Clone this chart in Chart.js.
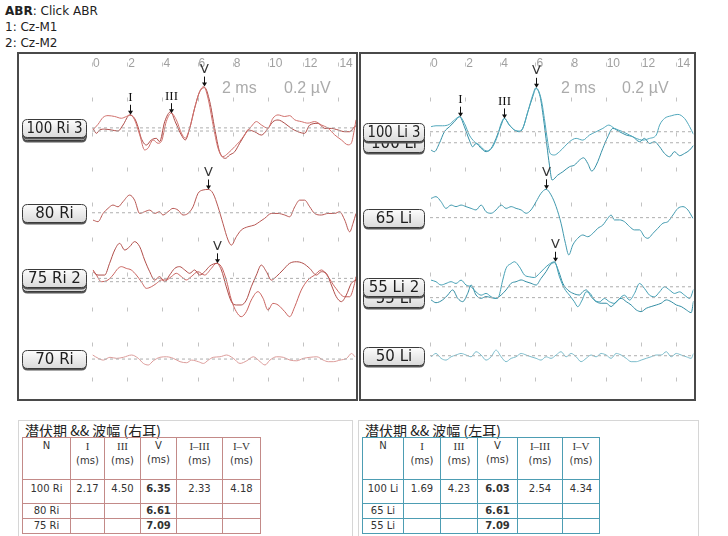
<!DOCTYPE html>
<html><head><meta charset="utf-8">
<script src="https://cdn.jsdelivr.net/npm/chart.js@4/dist/chart.umd.min.js"></script>
<style>
body{margin:0;width:728px;height:536px;background:#fff;position:relative;overflow:hidden;font-family:"DejaVu Sans",Verdana,sans-serif;}
.hdr{position:absolute;left:5px;font-size:12px;line-height:15px;color:#222;white-space:nowrap;}
.panel{position:absolute;top:52px;height:345px;border:2px solid #4a4a4a;}
canvas{position:absolute;top:52px;}
.sc{position:absolute;top:79px;font-family:"Liberation Sans",Arial,sans-serif;font-size:16px;line-height:18px;color:#ababab;white-space:nowrap;}
.tblbox{position:absolute;top:420px;height:115px;border:1px solid #d6d6d6;}
.ttl{position:absolute;left:6px;top:1px;font-family:"Noto Sans CJK SC","DejaVu Sans",sans-serif;font-size:14px;line-height:17px;color:#222;white-space:nowrap;}
table{position:absolute;left:3px;top:16px;border-collapse:collapse;table-layout:fixed;font-family:"DejaVu Sans",sans-serif;font-size:10px;color:#333;}
td{padding:0;text-align:center;line-height:14px;overflow:hidden;white-space:nowrap;}
tr.h td{height:40px;vertical-align:top;padding-top:1px;}
tr.r1 td{height:21px;vertical-align:top;padding-top:2px;}
tr.r td{height:14px;vertical-align:middle;}
.sr{font-family:"Liberation Serif","DejaVu Serif",serif;font-size:11px;}
</style></head>
<body>
<div class="hdr" style="top:4px"><b>ABR</b>: Click ABR</div>
<div class="hdr" style="top:20px">1: Cz-M1</div>
<div class="hdr" style="top:36px">2: Cz-M2</div>

<div class="panel" style="left:17px;width:337px"></div>
<div class="panel" style="left:359px;width:333px"></div>
<canvas id="cR" width="338" height="348" style="left:18px;width:338px;height:348px"></canvas>
<canvas id="cL" width="336" height="348" style="left:359px;width:336px;height:348px"></canvas>
<div class="sc" style="left:222px">2 ms</div>
<div class="sc" style="left:284px">0.2 µV</div>
<div class="sc" style="left:561px">2 ms</div>
<div class="sc" style="left:622px">0.2 µV</div>

<div class="tblbox" style="left:18px;width:333px"><div class="ttl">潜伏期 &amp;&amp; 波幅 (右耳)</div><table id="tR"></table></div>
<div class="tblbox" style="left:358px;width:339px"><div class="ttl">潜伏期 &amp;&amp; 波幅 (左耳)</div><table id="tL"></table></div>

<script>
// ---------- axis / grid values ----------
const X_MIN = 0, X_MAX = 15, X_STEP = 2;          // ms
const Y_MIN = -1.7, Y_MAX = 0.16;                 // µV
const gridAmps = [0.2, 0, -0.2, -0.4, -0.6, -0.8, -1.0, -1.2, -1.4, -1.6];

// ---------- table values ----------
const tblHead = ['N', 'I', 'III', 'V', 'I–III', 'I–V'];
const rightN   = ['100 Ri', '80 Ri', '75 Ri'];
const rightI   = ['2.17', '', ''];
const rightIII = ['4.50', '', ''];
const rightV   = ['6.35', '6.61', '7.09'];
const rightI_III = ['2.33', '', ''];
const rightI_V   = ['4.18', '', ''];
const leftN   = ['100 Li', '65 Li', '55 Li'];
const leftI   = ['1.69', '', ''];
const leftIII = ['4.23', '', ''];
const leftV   = ['6.03', '6.61', '7.09'];
const leftI_III = ['2.54', '', ''];
const leftI_V   = ['4.34', '', ''];

// ---------- trace labels and baselines (µV) ----------
const rightLabels  = ['100 Ri 3', '100 Ri', '80 Ri', '75 Ri 2', '75 Ri', '70 Ri'];
const rightOffsets = [-0.165, -0.183, -0.65, -1.025, -1.044, -1.486];
const leftLabels   = ['100 Li 3', '100 Li', '65 Li', '55 Li 2', '55 Li', '50 Li'];
const leftOffsets  = [-0.187, -0.25, -0.678, -1.073, -1.135, -1.467];

// ---------- right ear traces [ms, µV] ----------
const R100_3 = [[0.06,-0.01],[0.34,0.02],[0.63,0.06],[0.91,0.07],[1.29,0.065],[1.67,0.055],[1.95,0.065],[2.17,0.075],[2.42,0.046],[2.71,-0.04],[2.99,-0.126],[3.18,-0.116],[3.47,-0.069],[3.75,-0.088],[3.94,-0.078],[4.22,0.036],[4.50,0.084],[4.79,0.046],[5.08,-0.03],[5.30,-0.059],[5.55,-0.002],[5.83,0.112],[6.12,0.208],[6.35,0.236],[6.59,0.17],[6.88,0.017],[7.16,-0.116],[7.44,-0.164],[7.73,-0.145],[8.11,-0.107],[8.39,-0.078],[8.67,-0.04],[9.05,0.008],[9.34,0.036],[9.62,0.017],[10.0,-0.002],[10.28,0.055],[10.57,0.074],[10.95,0.065],[11.23,0.07],[11.52,0.046],[11.89,0.036],[12.27,0.027],[12.65,0.036],[13.03,0.017],[13.41,-0.002],[13.79,-0.04],[14.17,-0.069],[14.55,-0.097],[14.73,-0.088],[14.92,-0.002],[15.0,0.046]];
const R100 = [[0.06,0.015],[0.25,-0.013],[0.44,0.006],[0.72,0.011],[1.10,0.006],[1.48,0],[1.76,0.034],[2.14,0.091],[2.42,0.072],[2.61,0.025],[2.80,-0.042],[3.09,-0.08],[3.37,-0.051],[3.66,-0.042],[3.84,-0.061],[4.13,0.053],[4.47,0.11],[4.73,0.053],[5.08,-0.023],[5.30,-0.051],[5.55,0.015],[5.83,0.13],[6.12,0.225],[6.40,0.248],[6.69,0.168],[6.97,0.015],[7.25,-0.118],[7.58,-0.156],[7.82,-0.137],[8.11,-0.118],[8.39,-0.07],[8.67,-0.023],[8.86,0.006],[9.24,-0.004],[9.62,-0.023],[10.0,0.015],[10.28,0.053],[10.57,0.063],[10.95,0.044],[11.33,0.015],[11.70,-0.004],[12.08,-0.013],[12.37,0.034],[12.84,0.044],[13.22,0.015],[13.60,0.015],[13.98,0.006],[14.36,-0.004],[14.64,-0.004],[14.92,0.025],[15.0,0.03]];
const R80 = [[0.06,-0.042],[0.34,-0.051],[0.63,-0.004],[0.91,0.025],[1.19,0.044],[1.48,0.034],[1.76,0.063],[2.14,0.101],[2.42,0.072],[2.71,-0.004],[2.99,0.006],[3.28,0.015],[3.56,-0.004],[3.84,0.006],[4.03,-0.013],[4.32,0.006],[4.60,0.025],[4.89,0.015],[5.17,-0.013],[5.45,-0.004],[5.74,0.034],[6.02,0.11],[6.31,0.13],[6.61,0.133],[6.88,0.11],[7.16,0.034],[7.44,-0.061],[7.73,-0.156],[7.92,-0.185],[8.20,-0.137],[8.48,-0.099],[8.86,-0.08],[9.24,-0.07],[9.53,-0.051],[9.81,-0.032],[10.19,-0.004],[10.57,-0.004],[10.95,-0.013],[11.23,-0.023],[11.52,0.034],[11.80,0.072],[12.08,0.072],[12.37,0.034],[12.65,-0.004],[13.03,-0.013],[13.41,-0.004],[13.79,-0.004],[14.07,0.006],[14.36,-0.042],[14.64,-0.109],[14.83,-0.061],[15.0,-0.004]];
const R75_2 = [[0.06,0.038],[0.34,0.019],[0.72,0.019],[1.00,0.086],[1.29,0.162],[1.57,0.2],[1.86,0.162],[2.14,0.181],[2.42,0.21],[2.71,0.181],[2.99,0.105],[3.28,0.038],[3.56,-0.01],[3.84,0.01],[4.13,-0.019],[4.41,0.019],[4.70,0.057],[4.98,0.067],[5.27,0.048],[5.55,0.029],[5.83,0.048],[6.12,0.019],[6.40,0.038],[6.69,0.07],[7.09,0.086],[7.35,0.048],[7.63,-0.048],[7.92,-0.133],[8.20,-0.152],[8.48,-0.152],[8.77,-0.124],[9.05,-0.048],[9.34,0.019],[9.62,0.076],[9.91,0.038],[10.19,-0.01],[10.47,0.01],[10.85,0.048],[11.23,0.086],[11.61,0.095],[11.99,0.086],[12.37,0.057],[12.75,0.019],[13.03,0.038],[13.31,0.029],[13.60,-0.038],[13.88,-0.105],[14.17,-0.133],[14.45,-0.095],[14.73,-0.029],[15.0,-0.01]];
const R75 = [[0.06,0.067],[0.25,0.038],[0.53,0],[0.91,0.01],[1.19,0.038],[1.48,0.076],[1.67,0.086],[1.95,0.076],[2.23,0.067],[2.52,0.038],[2.80,0],[3.09,-0.038],[3.37,-0.029],[3.66,-0.01],[3.94,0.01],[4.22,0.01],[4.51,0.029],[4.79,0.048],[5.08,0.029],[5.36,0.01],[5.64,0.029],[6.02,0.057],[6.40,0.038],[6.78,0.076],[7.06,0.105],[7.35,0.086],[7.63,0.01],[7.92,-0.105],[8.20,-0.171],[8.48,-0.2],[8.77,-0.171],[9.05,-0.105],[9.43,-0.057],[9.72,-0.095],[10.0,-0.162],[10.28,-0.124],[10.57,-0.133],[10.95,-0.171],[11.23,-0.2],[11.52,-0.143],[11.89,-0.048],[12.27,0.01],[12.65,0.038],[13.03,0.067],[13.41,0.029],[13.79,-0.029],[14.36,-0.086],[14.64,-0.086],[14.92,-0.01],[15.0,0.029]];
const R70 = [[0.04,0.023],[0.36,0.004],[0.64,-0.006],[1.02,0.01],[1.40,0.004],[1.78,0.01],[2.25,0.023],[2.63,0.004],[2.92,-0.025],[3.20,-0.034],[3.48,-0.01],[3.86,0.01],[4.24,0.013],[4.62,0.004],[5.0,-0.015],[5.38,-0.021],[5.66,-0.006],[6.04,-0.015],[6.33,-0.025],[6.61,-0.006],[6.89,0.01],[7.27,0.013],[7.65,0.023],[8.03,0.004],[8.41,-0.025],[8.79,-0.01],[9.17,0.013],[9.55,-0.015],[9.83,-0.034],[10.11,-0.006],[10.49,0.013],[10.87,0.01],[11.25,-0.006],[11.63,-0.01],[12.01,0.004],[12.39,0.01],[12.77,0.013],[13.14,-0.006],[13.43,-0.015],[13.71,-0.015],[14.09,-0.006],[14.47,0.004],[14.75,0.032],[14.94,0.013]];

// ---------- left ear traces [ms, µV] ----------
const L100_3 = [[0.06,0.029],[0.34,0.034],[0.72,0.034],[1.10,0.042],[1.39,0.067],[1.69,0.086],[1.96,0.048],[2.24,-0.019],[2.53,-0.057],[2.81,-0.076],[3.10,-0.105],[3.29,-0.11],[3.57,-0.086],[3.86,-0.019],[4.05,0.048],[4.23,0.076],[4.52,0.038],[4.81,0.01],[5.09,0.004],[5.28,0.019],[5.57,0.114],[5.85,0.21],[6.03,0.251],[6.32,0.19],[6.51,0.076],[6.70,-0.057],[6.84,-0.124],[7.08,-0.133],[7.37,-0.114],[7.65,-0.086],[7.94,-0.057],[8.32,-0.038],[8.70,-0.048],[9.08,-0.019],[9.46,0],[9.84,0.019],[10.18,0.038],[10.50,0.019],[10.98,0],[11.36,-0.019],[11.74,-0.038],[12.12,-0.048],[12.50,-0.038],[12.88,-0.019],[13.07,0.038],[13.35,0.076],[13.73,0.091],[14.11,0.099],[14.49,0.076],[14.78,0.029],[15.0,-0.015]];
const L100 = [[0.06,-0.042],[0.25,-0.051],[0.53,-0.004],[0.82,0.063],[1.10,0.091],[1.39,0.12],[1.69,0.149],[1.96,0.091],[2.24,0.015],[2.43,-0.023],[2.62,-0.004],[2.91,-0.032],[3.19,-0.051],[3.48,-0.032],[3.76,0.025],[4.05,0.101],[4.23,0.139],[4.52,0.101],[4.81,0.072],[5.09,0.063],[5.28,0.082],[5.57,0.177],[5.85,0.263],[6.03,0.31],[6.27,0.263],[6.46,0.139],[6.65,-0.013],[6.80,-0.128],[6.95,-0.213],[7.27,-0.185],[7.56,-0.166],[7.94,-0.137],[8.22,-0.128],[8.51,-0.099],[8.74,-0.086],[8.98,-0.118],[9.21,-0.162],[9.46,-0.128],[9.84,-0.032],[10.12,0.034],[10.41,0.082],[10.79,0.063],[11.17,0.044],[11.55,0.034],[11.93,0.006],[12.21,0.025],[12.50,-0.004],[12.78,0.006],[13.07,-0.023],[13.35,-0.061],[13.64,-0.08],[13.92,-0.051],[14.21,-0.074],[14.49,-0.061],[14.78,-0.042],[15.0,-0.015]];
const L65 = [[0.06,0.11],[0.34,0.12],[0.63,0.091],[0.91,0.053],[1.20,0.072],[1.48,0.063],[1.77,0.072],[2.05,0.063],[2.34,0.053],[2.62,0.044],[2.91,0.072],[3.19,0.034],[3.48,0.025],[3.76,0.044],[4.05,0.072],[4.33,0.053],[4.62,0.063],[4.90,0.053],[5.19,0.044],[5.47,0.025],[5.75,0.044],[6.04,0.091],[6.32,0.139],[6.61,0.162],[6.89,0.13],[7.18,0.063],[7.46,-0.032],[7.71,-0.147],[7.90,-0.213],[8.13,-0.156],[8.41,-0.118],[8.70,-0.099],[8.98,-0.109],[9.27,-0.09],[9.55,-0.061],[9.84,-0.042],[10.12,-0.004],[10.31,0.015],[10.50,-0.013],[10.79,-0.013],[11.07,-0.023],[11.36,-0.051],[11.64,-0.07],[11.93,-0.07],[12.21,-0.109],[12.40,-0.118],[12.69,-0.09],[12.97,-0.061],[13.26,-0.032],[13.54,-0.023],[13.83,0.015],[14.11,0.053],[14.40,0.063],[14.68,0.044],[14.97,-0.004]];
const L55_2 = [[0.06,0.038],[0.34,0.029],[0.63,0.01],[0.91,0.019],[1.20,0.029],[1.48,0.019],[1.77,0.038],[2.05,0.01],[2.34,0],[2.62,-0.029],[2.91,-0.048],[3.19,-0.038],[3.48,-0.057],[3.76,-0.067],[3.91,-0.057],[4.14,0.038],[4.33,0.105],[4.62,0.133],[4.81,0.143],[5.09,0.114],[5.38,0.067],[5.66,0.057],[5.94,0.053],[6.23,0.076],[6.51,0.105],[6.80,0.13],[7.09,0.143],[7.37,0.057],[7.65,-0.01],[7.94,-0.048],[8.22,-0.086],[8.41,-0.114],[8.66,-0.076],[8.89,-0.029],[9.12,-0.038],[9.36,-0.076],[9.65,-0.086],[9.93,-0.067],[10.22,-0.086],[10.50,-0.095],[10.79,-0.067],[11.07,-0.048],[11.36,-0.076],[11.64,-0.038],[11.93,0.019],[12.21,-0.01],[12.50,-0.048],[12.78,-0.057],[13.07,-0.029],[13.35,0],[13.64,-0.019],[13.92,-0.038],[14.21,-0.029],[14.49,-0.048],[14.78,-0.067],[15.0,-0.015]];
const L55 = [[0.06,-0.013],[0.34,-0.029],[0.72,-0.013],[1.01,0.015],[1.29,0.044],[1.58,-0.004],[1.86,-0.023],[2.15,0.025],[2.34,0.072],[2.62,0.015],[2.91,-0.004],[3.19,0.006],[3.48,0],[3.76,-0.004],[4.05,0.015],[4.33,0.044],[4.62,0.082],[4.90,0.091],[5.19,0.101],[5.47,0.091],[5.75,0.082],[6.04,0.072],[6.32,0.11],[6.61,0.149],[6.84,0.187],[7.08,0.2],[7.33,0.149],[7.56,0.082],[7.84,0.044],[8.13,0.025],[8.51,0.015],[8.70,0.034],[8.89,0.044],[9.17,0.006],[9.46,-0.023],[9.74,-0.032],[10.03,-0.032],[10.31,-0.051],[10.60,-0.023],[10.88,-0.004],[11.17,-0.023],[11.45,-0.042],[11.74,-0.07],[12.02,-0.08],[12.31,-0.061],[12.59,-0.051],[12.88,-0.042],[13.16,-0.032],[13.45,-0.013],[13.73,-0.023],[14.02,-0.042],[14.30,-0.051],[14.59,-0.07],[14.87,-0.086],[15.0,-0.02]];
const L50 = [[0.06,-0.006],[0.34,0.013],[0.63,-0.015],[0.91,-0.025],[1.20,-0.006],[1.48,0.004],[1.77,0.013],[2.05,0.004],[2.34,-0.006],[2.62,0.023],[2.91,0.004],[3.19,-0.025],[3.48,-0.006],[3.76,0.032],[4.05,-0.006],[4.33,-0.034],[4.62,-0.015],[4.90,-0.006],[5.19,0.013],[5.47,0.004],[5.75,-0.006],[6.04,-0.015],[6.32,-0.025],[6.61,-0.006],[6.89,-0.015],[7.18,0.004],[7.46,0.023],[7.75,-0.006],[8.03,0.013],[8.32,-0.006],[8.60,-0.034],[8.89,-0.015],[9.17,0.004],[9.46,-0.006],[9.74,0.013],[10.03,0.004],[10.31,-0.015],[10.60,0.013],[10.88,0.004],[11.17,-0.015],[11.45,-0.034],[11.74,-0.034],[12.02,-0.025],[12.31,-0.015],[12.59,-0.006],[12.88,0.004],[13.16,0.004],[13.45,0.023],[13.73,-0.006],[14.02,0.013],[14.30,0.004],[14.59,-0.006],[14.87,-0.015],[15.0,0.013]];

const rightTraces = [R100_3, R100, R80, R75_2, R75, R70];
const leftTraces  = [L100_3, L100, L65, L55_2, L55, L50];
const rightColors = ['#d0706c', '#ad4a46', '#b85854', '#b04e4a', '#c9625e', '#dc9c9a'];
const leftColors  = ['#52a8bc', '#3590a6', '#4199ae', '#449fb4', '#348ea4', '#7cbccb'];

// peak markers: [trace index, peak name, latency from table]
const rightMarks = [[0, tblHead[1], +rightI[0]], [0, tblHead[2], +rightIII[0]], [0, tblHead[3], +rightV[0]], [2, tblHead[3], +rightV[1]], [3, tblHead[3], +rightV[2]]];
const leftMarks  = [[0, tblHead[1], +leftI[0]], [0, tblHead[2], +leftIII[0]], [0, tblHead[3], +leftV[0]], [2, tblHead[3], +leftV[1]], [3, tblHead[3], +leftV[2]]];

function interp(arr, t) {
  for (let i = 1; i < arr.length; i++) {
    if (arr[i][0] >= t) {
      const a = arr[i-1], b = arr[i];
      return a[1] + (b[1]-a[1]) * (t - a[0]) / (b[0] - a[0]);
    }
  }
  return arr[arr.length-1][1];
}

function roundRect(ctx, x, y, w, h, r) {
  ctx.beginPath();
  ctx.moveTo(x + r, y); ctx.lineTo(x + w - r, y); ctx.quadraticCurveTo(x + w, y, x + w, y + r);
  ctx.lineTo(x + w, y + h - r); ctx.quadraticCurveTo(x + w, y + h, x + w - r, y + h);
  ctx.lineTo(x + r, y + h); ctx.quadraticCurveTo(x, y + h, x, y + h - r);
  ctx.lineTo(x, y + r); ctx.quadraticCurveTo(x, y, x + r, y); ctx.closePath();
}

const abrPlugin = {
  id: 'abr',
  beforeDatasetsDraw(chart) {
    const {ctx, scales: {x, y}} = chart;
    ctx.save();
    ctx.strokeStyle = '#c2c2c2'; ctx.lineWidth = 1;
    x.ticks.forEach(tk => {
      const px = Math.round(x.getPixelForValue(tk.value)) + 0.5;
      gridAmps.forEach(a => {
        const py = Math.round(y.getPixelForValue(a)) + 0.5;
        ctx.beginPath();
        ctx.moveTo(px, py - 2); ctx.lineTo(px, py + 2);
        ctx.stroke();
      });
    });
    ctx.restore();
  },
  afterDatasetsDraw(chart, args, o) {
    const {ctx, chartArea, scales: {x, y}} = chart;
    ctx.save();
    // peak markers
    o.marks.forEach(([ti, name, t]) => {
      const px = Math.round(x.getPixelForValue(t)) + 0.5;
      const tip = y.getPixelForValue(interp(o.traces[ti], t) + o.offsets[ti]);
      ctx.strokeStyle = '#111'; ctx.fillStyle = '#111'; ctx.lineWidth = 1;
      ctx.beginPath(); ctx.moveTo(px, tip - 10); ctx.lineTo(px, tip - 2); ctx.stroke();
      ctx.beginPath(); ctx.moveTo(px - 2.5, tip - 4); ctx.lineTo(px + 2.5, tip - 4); ctx.lineTo(px, tip); ctx.closePath(); ctx.fill();
      ctx.textAlign = 'center'; ctx.textBaseline = 'middle';
      if (name === 'V') { ctx.font = '13px "DejaVu Sans"'; ctx.fillStyle = '#333'; }
      else { ctx.font = '13px "Liberation Serif"'; ctx.fillStyle = '#111'; }
      ctx.fillText(name, px, tip - 17);
    });
    // label boxes (lower ones first)
    const order = o.offsets.map((v, i) => i).sort((a, b) => o.offsets[a] - o.offsets[b]);
    const bx = 4, bw = chartArea.left - 10, bh = 18;
    order.forEach(i => {
      const cy = y.getPixelForValue(o.offsets[i]);
      const top = Math.round(cy - bh / 2) + 0.5;
      ctx.fillStyle = '#555';
      roundRect(ctx, bx + 0.5, top + 2, bw, bh, 5); ctx.fill();
      const g = ctx.createLinearGradient(0, top, 0, top + bh);
      g.addColorStop(0, '#fdfdfd'); g.addColorStop(1, '#dadada');
      ctx.fillStyle = g;
      roundRect(ctx, bx + 0.5, top, bw, bh, 5); ctx.fill();
      ctx.strokeStyle = '#3a3a3a'; ctx.lineWidth = 1; ctx.stroke();
      ctx.fillStyle = '#1e1e1e';
      ctx.font = '15px "DejaVu Sans"';
      ctx.textAlign = 'center'; ctx.textBaseline = 'middle';
      ctx.fillText(o.labels[i], bx + bw / 2 + 0.5, top + bh / 2 + 1, bw - 8);
    });
    ctx.restore();
  }
};

function makeChart(id, traces, offsets, labels, colors, marks, padLeft, padRight) {
  const datasets = [];
  offsets.forEach(off => datasets.push({
    data: [{x: X_MIN, y: off}, {x: X_MAX, y: off}],
    borderColor: '#aeaeae', borderWidth: 1, borderDash: [3, 3], pointRadius: 0, tension: 0
  }));
  traces.forEach((tr, i) => datasets.push({
    data: tr.map(p => ({x: p[0], y: p[1] + offsets[i]})),
    borderColor: colors[i], borderWidth: 1, pointRadius: 0, cubicInterpolationMode: 'monotone'
  }));
  return new Chart(document.getElementById(id), {
    type: 'line',
    data: {datasets},
    plugins: [abrPlugin],
    options: {
      responsive: false, animation: false, devicePixelRatio: 1,
      layout: {padding: {left: padLeft, right: padRight, top: 0, bottom: 3.5}},
      plugins: {legend: {display: false}, tooltip: {enabled: false},
        abr: {traces, offsets, labels, marks}},
      scales: {
        x: {type: 'linear', position: 'top', min: X_MIN, max: X_MAX,
          afterFit: s => { s.height = 19; s.paddingLeft = 0; s.paddingRight = 0; },
          grid: {display: false, drawTicks: false}, border: {display: false},
          ticks: {stepSize: X_STEP, includeBounds: false, align: 'start', labelOffset: 1, padding: 0,
            maxRotation: 0, autoSkip: false, color: '#a0a0a0',
            font: {family: 'Liberation Sans', size: 12}}},
        y: {type: 'linear', display: false, min: Y_MIN, max: Y_MAX}
      }
    }
  });
}

makeChart('cR', rightTraces, rightOffsets, rightLabels, rightColors, rightMarks, 74, 0);
makeChart('cL', leftTraces, leftOffsets, leftLabels, leftColors, leftMarks, 71, 1.5);

// ---------- tables ----------
function buildTable(id, color, widths, N, I, III, V, I_III, I_V) {
  const t = document.getElementById(id);
  let html = '<colgroup>' + widths.map(w => `<col style="width:${w}px">`).join('') + '</colgroup>';
  const b = `border:1px solid ${color}`;
  html += '<tr class="h">' + tblHead.map((h, i) => {
    const serif = (i === 1 || i === 2 || i === 4 || i === 5) ? ' class="sr"' : '';
    return i === 0 ? `<td style="${b}">${h}</td>` : `<td style="${b}"><span${serif}>${h}</span><br>(ms)</td>`;
  }).join('') + '</tr>';
  N.forEach((n, r) => {
    html += `<tr class="${r === 0 ? 'r1' : 'r'}">` +
      [n, I[r], III[r], `<b>${V[r]}</b>`, I_III[r], I_V[r]].map(v => `<td style="${b}">${v}</td>`).join('') + '</tr>';
  });
  t.innerHTML = html;
  t.style.width = widths.reduce((a, c) => a + c, 0) + 'px';
}
buildTable('tR', '#c38a88', [48, 34, 36, 36, 46, 38], rightN, rightI, rightIII, rightV, rightI_III, rightI_V);
buildTable('tL', '#4d9db3', [41, 37, 37, 40, 45, 37], leftN, leftI, leftIII, leftV, leftI_III, leftI_V);
</script>
</body></html>
